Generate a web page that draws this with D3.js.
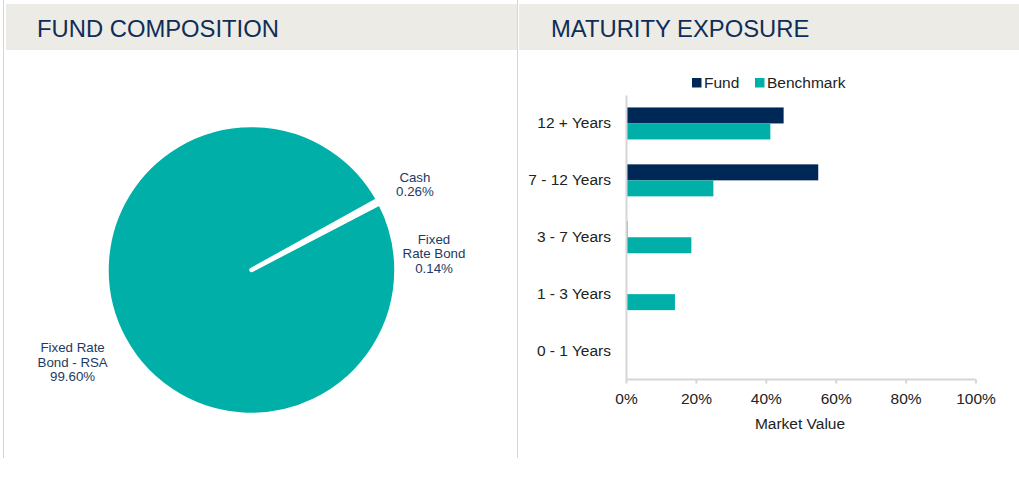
<!DOCTYPE html>
<html><head><meta charset="utf-8">
<script src="https://cdn.jsdelivr.net/npm/d3@7"></script>
<style>
html,body{margin:0;padding:0;background:#fff;}
svg{display:block;font-family:"Liberation Sans",Arial,sans-serif;}
</style></head>
<body>
<svg id="chart" width="1019" height="477"></svg>
<script>
// ---- data ----
const pieLabels = ["Cash", "Fixed Rate Bond", "Fixed Rate Bond - RSA"];
const pieLabelLines = [["Cash", "0.26%"], ["Fixed", "Rate Bond", "0.14%"], ["Fixed Rate", "Bond - RSA", "99.60%"]];
const pieValues = [0.26, 0.14, 99.60];

const categories = ["12 + Years", "7 - 12 Years", "3 - 7 Years", "1 - 3 Years", "0 - 1 Years"];
const seriesNames = ["Fund", "Benchmark"];
const fundValues = [45.1, 55.0, 0.4, 0, 0];
const benchmarkValues = [41.3, 25.0, 18.7, 14.0, 0];
const xTicks = [0, 20, 40, 60, 80, 100];

// ---- styles ----
const navy = "#002856";
const teal = "#00b0a8";
const titleColor = "#0f2d57";
const headerBg = "#ecebe6";
const lineColor = "#dcd3cc";

const svg = d3.select("#chart");

// panel frame
svg.append("line").attr("x1", 3.5).attr("x2", 3.5).attr("y1", 0).attr("y2", 458)
  .attr("stroke", lineColor).attr("stroke-width", 1);
svg.append("line").attr("x1", 517.5).attr("x2", 517.5).attr("y1", 0).attr("y2", 458)
  .attr("stroke", lineColor).attr("stroke-width", 1);

// headers
svg.append("rect").attr("x", 6).attr("y", 4).attr("width", 511).attr("height", 46).attr("fill", headerBg);
svg.append("rect").attr("x", 519).attr("y", 4).attr("width", 500).attr("height", 46).attr("fill", headerBg);
svg.append("text").attr("x", 37).attr("y", 37).attr("font-size", 23.8).attr("fill", titleColor).text("FUND COMPOSITION");
svg.append("text").attr("x", 551).attr("y", 37).attr("font-size", 23.8).attr("fill", titleColor).text("MATURITY EXPOSURE");

// ---- pie ----
const cx = 251.5, cy = 270, r = 145;
const a0 = 61 * Math.PI / 180;
const pie = d3.pie().sort(null).startAngle(a0).endAngle(a0 + 2 * Math.PI);
const arcs = pie(pieValues);
const arc = d3.arc().innerRadius(0).outerRadius(r);
const g = svg.append("g").attr("transform", `translate(${cx},${cy})`);
g.selectAll("path").data(arcs).join("path")
  .attr("d", arc).attr("fill", teal)
  .attr("stroke", "#fff").attr("stroke-width", 4.5).attr("stroke-linejoin", "round");

const labelRadius = [186, 186, 202];
const labelNudge = [[0, 3], [18, 70], [-1, -4]];
const lineH = 14.5;
arcs.forEach((d, i) => {
  const la = d3.arc().innerRadius(labelRadius[i]).outerRadius(labelRadius[i]);
  const [lx, ly] = la.centroid(d);
  const lines = pieLabelLines[i];
  const px = lx + labelNudge[i][0], py = ly + labelNudge[i][1];
  const t = g.append("text").attr("text-anchor", "middle").attr("font-size", 13.3).attr("fill", "#1c3a64");
  lines.forEach((s, k) => {
    t.append("tspan").attr("x", px).attr("y", py + (k - (lines.length - 1) / 2) * lineH + 5).text(s);
  });
});

// ---- bars ----
const x = d3.scaleLinear().domain([0, 100]).range([626, 975.5]);
const y = d3.scaleBand().domain(categories).range([95, 379.5]).padding(0);
const ys = d3.scaleBand().domain(seriesNames).range([-16, 16]);
const axisColor = "#d6d6d6";

const rows = categories.map((c, i) => ({cat: c, vals: [fundValues[i], benchmarkValues[i]]}));
const colors = [navy, teal];
const barG = svg.append("g");
rows.forEach(row => {
  const yc = y(row.cat) + y.bandwidth() / 2;
  row.vals.forEach((v, j) => {
    if (v <= 0) return;
    barG.append("rect")
      .attr("x", x(0)).attr("y", yc + ys(seriesNames[j]))
      .attr("width", x(v) - x(0)).attr("height", ys.bandwidth())
      .attr("fill", colors[j]);
  });
});

// x axis
const xAxis = d3.axisBottom(x).tickValues(xTicks).tickFormat(d => d + "%").tickSize(4).tickPadding(9);
const xg = svg.append("g").attr("transform", "translate(0,379.5)").call(xAxis);
xg.select(".domain").attr("stroke", axisColor).attr("stroke-width", 2).attr("d", `M${x(0)},0H${x(100)}`);
xg.selectAll(".tick line").attr("stroke", axisColor).attr("stroke-width", 2);
xg.selectAll(".tick text").attr("font-size", 15.5).attr("fill", "#222").attr("font-family", "Liberation Sans, Arial, sans-serif");

// y axis
const yAxis = d3.axisLeft(y).tickSize(0).tickPadding(15);
const yg = svg.append("g").attr("transform", `translate(${x(0)},0)`).call(yAxis);
yg.select(".domain").attr("stroke", axisColor).attr("stroke-width", 2);
yg.selectAll(".tick text").attr("font-size", 15.5).attr("fill", "#222").attr("font-family", "Liberation Sans, Arial, sans-serif");
yg.raise();

// axis title
svg.append("text").attr("x", 800).attr("y", 429).attr("text-anchor", "middle")
  .attr("font-size", 15.5).attr("fill", "#222").text("Market Value");

// legend
const legX = [692, 755];
seriesNames.forEach((s, j) => {
  svg.append("rect").attr("x", legX[j]).attr("y", 78).attr("width", 9.5).attr("height", 9.5).attr("fill", colors[j]);
  svg.append("text").attr("x", legX[j] + 12).attr("y", 88).attr("font-size", 15.5).attr("fill", "#222").text(s);
});
</script>
</body></html>
